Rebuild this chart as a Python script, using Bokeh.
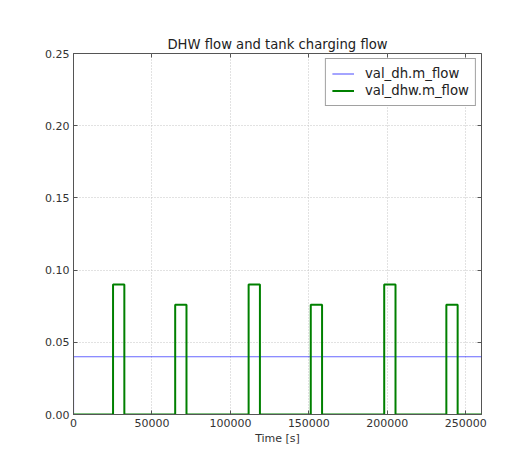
from bokeh.plotting import figure
from bokeh.models import LinearAxis, Legend, LegendItem, FixedTicker, NumeralTickFormatter, Range1d, CustomJSTickFormatter
from bokeh.embed import file_html
from bokeh.resources import INLINE

# ---- data ----
dh_time = [0, 0, 260000]
dh_flow = [0.0, 0.04, 0.04]

pulse_start = [25200, 64800, 111600, 151200, 198000, 237600]
pulse_end = [32400, 72000, 118800, 158400, 205200, 244800]
pulse_height = [0.09, 0.076, 0.09, 0.076, 0.09, 0.076]
t_end = 260000

x_ticks = [0, 50000, 100000, 150000, 200000, 250000]
y_ticks = [0.0, 0.05, 0.10, 0.15, 0.20, 0.25]

# build step series for DHW flow
dhw_time = [0]
dhw_flow = [0.0]
for s, e, h in zip(pulse_start, pulse_end, pulse_height):
    dhw_time += [s, s, e, e]
    dhw_flow += [0.0, h, h, 0.0]
dhw_time.append(t_end)
dhw_flow.append(0.0)

FONT = "DejaVu Sans"

p = figure(width=513, height=454, output_backend="svg", toolbar_location=None,
           x_range=Range1d(0, 260000), y_range=Range1d(0, 0.25),
           min_border_left=73, min_border_right=32, min_border_top=53, min_border_bottom=40,
           title="DHW flow and tank charging flow")
p.title.align = "center"
p.title.text_font = FONT
p.title.text_font_size = "13.2px"
p.title.text_font_style = "normal"
p.title.text_color = "#222222"
p.title.offset = 0
p.title.standoff = 4

p.outline_line_color = "#555555"
p.outline_line_width = 1
p.background_fill_color = "white"
p.border_fill_color = "white"

l1 = p.line(dh_time, dh_flow, line_color="blue", line_alpha=0.6, line_width=1.2)
l2 = p.line(dhw_time, dhw_flow, line_color="#008000", line_width=2)

for ax in (p.xaxis[0], p.yaxis[0]):
    ax.major_tick_in = 4
    ax.major_tick_out = 0
    ax.minor_tick_in = 0
    ax.minor_tick_out = 0
    ax.axis_line_color = "#555555"
    ax.major_tick_line_color = "#555555"
    ax.major_label_text_font = FONT
    ax.major_label_text_font_size = "11px"
    ax.major_label_text_color = "#333333"
    ax.major_label_standoff = 4

p.xaxis[0].ticker = FixedTicker(ticks=x_ticks)
p.yaxis[0].ticker = FixedTicker(ticks=y_ticks)
p.yaxis[0].formatter = NumeralTickFormatter(format="0.00")
p.xaxis[0].formatter = NumeralTickFormatter(format="0")
p.xaxis[0].axis_label = "Time [s]"
p.xaxis[0].axis_label_text_font = FONT
p.xaxis[0].axis_label_text_font_size = "11px"
p.xaxis[0].axis_label_text_font_style = "normal"
p.xaxis[0].axis_label_text_color = "#333333"
p.xaxis[0].axis_label_standoff = 2

blank = CustomJSTickFormatter(code="return '';")
for loc in ("above", "right"):
    ax = LinearAxis(ticker=FixedTicker(ticks=x_ticks if loc == "above" else y_ticks),
                    formatter=blank)
    ax.major_tick_in = 4
    ax.major_tick_out = 0
    ax.minor_tick_in = 0
    ax.minor_tick_out = 0
    ax.axis_line_color = None
    ax.major_tick_line_color = "#555555"
    ax.major_label_standoff = 0
    p.add_layout(ax, loc)

p.grid.grid_line_color = "#c4c4c4"
p.grid.grid_line_dash = "1 2"
p.grid.grid_line_width = 1
p.xgrid.ticker = FixedTicker(ticks=x_ticks)
p.ygrid.ticker = FixedTicker(ticks=y_ticks)

legend = Legend(items=[LegendItem(label="val_dh.m_flow", renderers=[l1]),
                       LegendItem(label="val_dhw.m_flow", renderers=[l2])],
                location="top_right")
legend.label_text_font = FONT
legend.label_text_font_size = "13.3px"
legend.label_text_color = "#222222"
legend.border_line_color = "#444444"
legend.border_line_width = 1
legend.margin = 5
legend.padding = 6
legend.spacing = 0
legend.glyph_width = 22
legend.label_height = 17
legend.glyph_height = 17
legend.label_standoff = 11
legend.background_fill_alpha = 1.0
p.add_layout(legend)

open("out.html", "w").write(file_html(p, INLINE))
